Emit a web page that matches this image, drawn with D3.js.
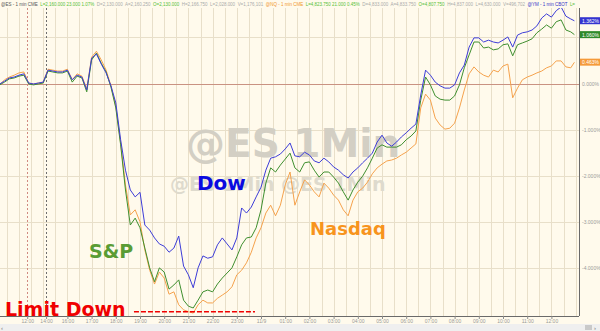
<!DOCTYPE html>
<html>
<head>
<meta charset="utf-8">
<script src="https://cdn.jsdelivr.net/npm/d3@7/dist/d3.min.js"></script>
<style>
body { margin: 0; background: #fffaec; }
svg { display: block; }
</style>
</head>
<body>
<svg id="graph" width="600" height="331"></svg>
<script>
// hours relative to midnight, one sample every 12 min
var hours = [
    -10.8, -10.6, -10.4, -10.2, -10, -9.8, -9.6, -9.4, -9.2, -9,
    -8.8, -8.6, -8.4, -8.2, -8, -7.8, -7.6, -7.4, -7.2, -7,
    -6.8, -6.6, -6.4, -6.2, -6, -5.8, -5.6, -5.4, -5.2, -5,
    -4.8, -4.6, -4.4, -4.2, -4, -3.8, -3.6, -3.4, -3.2, -3,
    -2.8, -2.6, -2.4, -2.2, -2, -1.8, -1.6, -1.4, -1.2, -1,
    -0.8, -0.6, -0.4, -0.2, 0, 0.2, 0.4, 0.6, 0.8, 1,
    1.2, 1.4, 1.6, 1.8, 2, 2.2, 2.4, 2.6, 2.8, 3,
    3.2, 3.4, 3.6, 3.8, 4, 4.2, 4.4, 4.6, 4.8, 5,
    5.2, 5.4, 5.6, 5.8, 6, 6.2, 6.4, 6.6, 6.8, 7,
    7.2, 7.4, 7.6, 7.8, 8, 8.2, 8.4, 8.6, 8.8, 9,
    9.2, 9.4, 9.6, 9.8, 10, 10.2, 10.4, 10.6, 10.8, 11,
    11.2, 11.4, 11.6, 11.8, 12, 12.2, 12.4, 12.6, 12.8, 12.95
];

// percent change
var dow_values = [
    -0.01, 0.05, 0.12, 0.14, 0.18, 0.21, 0.01, -0.01, 0.01, 0.03,
    0.29, 0.27, 0.25, 0.25, 0.29, 0.08, 0.18, 0.14, -0.14, 0.55,
    0.64, 0.42, 0.23, -0.05, -0.42, -1.22, -1.88, -2.31, -2.46, -2.36,
    -3.07, -3.18, -3.35, -3.48, -3.53, -3.66, -3.57, -3.31, -3.96, -4.15,
    -4.43, -4.00, -3.74, -3.79, -3.76, -3.50, -3.35, -3.48, -3.61, -3.35,
    -2.70, -2.81, -2.68, -2.46, -2.25, -1.88, -1.62, -1.59, -1.53, -1.42,
    -1.29, -1.57, -1.59, -1.49, -1.55, -1.68, -1.72, -1.62, -1.70, -1.81,
    -1.88, -1.98, -2.05, -1.92, -1.83, -1.72, -1.62, -1.51, -1.27, -1.12,
    -1.29, -1.36, -1.27, -1.16, -1.07, -0.97, -0.88, -0.25, 0.29, 0.18,
    0.03, -0.05, -0.10, -0.10, -0.03, 0.23, 0.40, 0.79, 0.99, 0.99,
    0.90, 0.94, 0.90, 0.88, 0.94, 1.01, 0.79, 1.05, 1.10, 1.12,
    1.16, 1.25, 1.42, 1.51, 1.44, 1.58, 1.66, 1.46, 1.40, 1.36
];

var sp_values = [
    -0.03, 0.03, 0.10, 0.12, 0.16, 0.18, -0.01, -0.03, -0.01, 0.01,
    0.27, 0.25, 0.23, 0.23, 0.27, 0.03, 0.16, 0.12, -0.18, 0.51,
    0.66, 0.44, 0.25, -0.08, -0.53, -1.33, -2.31, -3.07, -2.92, -3.13,
    -3.57, -4.00, -4.30, -4.00, -4.09, -4.46, -4.37, -4.26, -4.70, -4.83,
    -4.87, -4.70, -4.52, -4.48, -4.52, -4.35, -4.22, -4.11, -4.00, -3.76,
    -3.50, -3.35, -3.33, -3.13, -2.74, -2.16, -1.83, -1.92, -1.77, -1.64,
    -1.51, -1.83, -1.92, -1.72, -1.70, -1.88, -2.03, -1.92, -1.92, -2.03,
    -2.16, -2.35, -2.53, -2.31, -2.14, -2.01, -1.83, -1.62, -1.40, -1.33,
    -1.38, -1.38, -1.38, -1.33, -1.22, -1.14, -1.03, -0.36, 0.14, -0.03,
    -0.27, -0.34, -0.36, -0.36, -0.27, -0.03, 0.34, 0.62, 0.90, 0.90,
    0.77, 0.79, 0.73, 0.75, 0.84, 0.86, 0.60, 0.84, 0.88, 0.92,
    0.97, 1.10, 1.18, 1.27, 1.20, 1.34, 1.38, 1.16, 1.12, 1.06
];

var nasdaq_values = [
    -0.03, 0.08, 0.14, 0.18, 0.23, 0.25, 0.01, -0.01, 0.01, 0.03,
    0.31, 0.29, 0.27, 0.27, 0.31, 0.08, 0.21, 0.16, -0.12, 0.57,
    0.70, 0.51, 0.29, -0.05, -0.49, -1.29, -2.20, -2.85, -2.74, -3.00,
    -3.61, -4.05, -4.35, -4.09, -4.22, -4.57, -4.52, -4.80, -4.91, -4.95,
    -4.98, -4.80, -4.70, -4.76, -4.76, -4.66, -4.59, -4.52, -4.41, -4.15,
    -4.05, -3.89, -3.66, -3.35, -3.13, -2.81, -2.64, -2.87, -2.64, -2.20,
    -1.92, -2.64, -2.35, -2.09, -2.20, -2.35, -2.46, -2.16, -2.27, -2.42,
    -2.53, -2.74, -2.87, -2.53, -2.35, -2.27, -2.14, -1.96, -1.83, -1.75,
    -1.68, -1.66, -1.62, -1.55, -1.49, -1.40, -1.31, -0.53, -0.23, -0.36,
    -0.75, -0.90, -0.99, -0.97, -0.86, -0.53, -0.14, 0.21, 0.36, 0.25,
    0.18, 0.14, 0.29, 0.25, 0.38, 0.42, -0.31, -0.10, 0.08, 0.14,
    0.18, 0.23, 0.27, 0.34, 0.38, 0.49, 0.49, 0.36, 0.34, 0.46
];

var last_labels = ["1.362%", "1.060%", "0.463%"];
var last_values = [1.362, 1.060, 0.463];

var tick_hours = [-9.66, -8.88, -8, -7, -6, -5, -4, -3, -2, -1, 0, 1, 2, 3, 4, 5, 6, 7, 8, 9, 10, 11, 12];
var tick_labels = ["12:00", "14:00", "16:00", "17:00", "18:00", "19:00", "20:00", "21:00", "22:00", "23:00", "11/9",
    "01:00", "02:00", "03:00", "04:00", "05:00", "06:00", "07:00", "08:00", "09:00", "10:00", "11:00", "12:00"];
var session_breaks = [-9.66, -8.88];
var grid_percents = [1, 0, -1, -2, -3, -4];
var label_percents = [0, -1, -2, -3, -4];

var limit_down_pct = -4.95;
var limit_down_span = [-5.25, -0.25];

var header_parts = [
    ["@ES - 1 min CME  ", "#555555"],
    ["L=2,160.000 23.000 1.07%  ", "#55c035"],
    ["D=2,130.000  ", "#aaaaaa"],
    ["A=2,160.250  ", "#aaaaaa"],
    ["O=2,130.000  ", "#55c035"],
    ["H=2,166.750  ", "#aaaaaa"],
    ["L=2,028.000  ", "#aaaaaa"],
    ["V=1,176,101  ", "#aaaaaa"],
    ["@NQ - 1 min CME  ", "#f0962e"],
    ["L=4,823.750 21.000 0.45%  ", "#55c035"],
    ["D=4,833.000  ", "#aaaaaa"],
    ["A=4,833.750  ", "#aaaaaa"],
    ["O=4,807.750  ", "#55c035"],
    ["H=4,837.000  ", "#aaaaaa"],
    ["L=4,630.000  ", "#aaaaaa"],
    ["V=496,702  ", "#aaaaaa"],
    ["@YM - 1 min CBOT  ", "#3434c8"],
    ["L=", "#55c035"]
];

var plot_right = 579;
var plot_top = 8;
var plot_bottom = 316;

window.onload = function()
{
    var graph = d3.select("#graph");
    var x = d3.scaleLinear().domain([-10.785, 13.14]).range([0, plot_right]);
    var y = d3.scaleLinear().domain([0, -5]).range([83.5, 314]);

    graph.append("rect").
        attr("width", 600).
        attr("height", 331).
        attr("fill", "#fffaec");

    draw_grid(graph, x, y);
    draw_watermark(graph);
    draw_series(graph, x, y);
    draw_annotations(graph, x, y);
    draw_scrollbar(graph);
    draw_axes(graph, x, y);
    draw_header(graph);
}

function draw_grid(graph, x, y)
{
    var half_hours = d3.range(-10.5, 13.01, 0.5);
    graph.append("g").selectAll("line").data(half_hours).enter().append("line").
        attr("x1", function(d) { return Math.round(x(d)) + 0.5; }).
        attr("x2", function(d) { return Math.round(x(d)) + 0.5; }).
        attr("y1", plot_top).
        attr("y2", plot_bottom).
        attr("stroke", "#e8dfc9").
        attr("stroke-width", 1);

    graph.append("g").selectAll("line").data(grid_percents).enter().append("line").
        attr("x1", 0).
        attr("x2", plot_right).
        attr("y1", function(d) { return Math.round(y(d)) + 0.5; }).
        attr("y2", function(d) { return Math.round(y(d)) + 0.5; }).
        attr("stroke", function(d) { return d === 0 ? "#c99282" : "#e8dfc9"; }).
        attr("stroke-width", 1);

    graph.append("g").selectAll("line").data(session_breaks).enter().append("line").
        attr("x1", function(d) { return Math.round(x(d)) + 0.5; }).
        attr("x2", function(d) { return Math.round(x(d)) + 0.5; }).
        attr("y1", plot_top).
        attr("y2", plot_bottom).
        attr("stroke", function(d, i) { return i === 0 ? "#d08a80" : "#6e6e6e"; }).
        attr("stroke-dasharray", "2,2").
        attr("stroke-width", 1);
}

function draw_watermark(graph)
{
    graph.append("text").
        attr("x", 186).
        attr("y", 157).
        attr("font-family", "DejaVu Sans").
        attr("font-weight", "bold").
        attr("font-size", 39).
        attr("fill", "#d3cfc4").
        text("@ES 1Min");

    graph.append("text").
        attr("x", 170).
        attr("y", 191).
        attr("font-family", "DejaVu Sans").
        attr("font-weight", "bold").
        attr("font-size", 19).
        attr("fill", "#dedacd").
        text("@ES 1Min @ES 1Min");
}

function draw_series(graph, x, y)
{
    var series = [
        { values: nasdaq_values, color: "#f5a24c" },
        { values: sp_values, color: "#3f8f2f" },
        { values: dow_values, color: "#3d3dd8" }
    ];
    graph.append("clipPath").attr("id", "plot-clip").
        append("rect").
        attr("x", 0).
        attr("y", plot_top).
        attr("width", plot_right).
        attr("height", plot_bottom - plot_top);

    var line = d3.line().
        x(function(d) { return x(d[0]); }).
        y(function(d) { return y(d[1]); });

    graph.append("g").attr("clip-path", "url(#plot-clip)").
        selectAll("path").data(series).enter().append("path").
        attr("d", function(s) { return line(d3.zip(hours, s.values)); }).
        attr("fill", "none").
        attr("stroke", function(s) { return s.color; }).
        attr("stroke-width", 1).
        attr("stroke-linejoin", "round");
}

function draw_annotations(graph, x, y)
{
    var labels = [
        { text: "Dow", x: 197, y: 190, size: 20, color: "#0a0ae0" },
        { text: "S&P", x: 89, y: 258, size: 19, color: "#5a9c34" },
        { text: "Nasdaq", x: 310, y: 235, size: 18, color: "#f7941d" },
        { text: "Limit Down", x: 5, y: 316, size: 19, color: "#f00000" }
    ];
    graph.append("g").selectAll("text").data(labels).enter().append("text").
        attr("x", function(d) { return d.x; }).
        attr("y", function(d) { return d.y; }).
        attr("font-family", "DejaVu Sans").
        attr("font-weight", "bold").
        attr("font-size", function(d) { return d.size; }).
        attr("fill", function(d) { return d.color; }).
        text(function(d) { return d.text; });

    graph.append("line").
        attr("x1", x(limit_down_span[0])).
        attr("x2", x(limit_down_span[1])).
        attr("y1", y(limit_down_pct)).
        attr("y2", y(limit_down_pct)).
        attr("stroke", "#f00000").
        attr("stroke-width", 1.6).
        attr("stroke-dasharray", "5,2");
}

function draw_axes(graph, x, y)
{
    var bottom_axis = graph.append("g").
        attr("transform", "translate(0," + plot_bottom + ")").
        call(d3.axisBottom(x).
            tickValues(tick_hours).
            tickFormat(function(d, i) { return tick_labels[i]; }).
            tickSizeInner(3).
            tickSizeOuter(0));
    bottom_axis.select(".domain").attr("stroke", "#6a6a6a").attr("d", "M0,0.5H" + plot_right);
    bottom_axis.selectAll(".tick line").attr("stroke", "#8a8a8a");
    bottom_axis.selectAll(".tick text").
        attr("y", 3.5).
        attr("font-family", "Liberation Sans").
        attr("font-size", 5).
        attr("fill", "#9a9a9a");

    var right_axis = graph.append("g").
        attr("transform", "translate(" + plot_right + ",0)").
        call(d3.axisRight(y).
            tickValues(label_percents).
            tickFormat(function(d) { return d.toFixed(3) + "%"; }).
            tickSizeInner(0).
            tickSizeOuter(0).
            tickPadding(3));
    right_axis.select(".domain").attr("stroke", "#6a6a6a").attr("d", "M0.5," + plot_top + "V" + plot_bottom);
    right_axis.selectAll(".tick text").
        attr("font-family", "Liberation Sans").
        attr("font-size", 5).
        attr("fill", "#9a9a9a");

    var tag_colors = ["#3434d0", "#2f8a2a", "#f59a3a"];
    var tags = graph.append("g").selectAll("g").data(last_values).enter().append("g").
        attr("transform", function(d) { return "translate(" + (plot_right + 1) + "," + y(d) + ")"; });
    tags.append("rect").
        attr("x", 0).
        attr("y", -3.5).
        attr("width", 21).
        attr("height", 7).
        attr("fill", function(d, i) { return tag_colors[i]; });
    tags.append("text").
        attr("x", 2).
        attr("y", 2).
        attr("font-family", "Liberation Sans").
        attr("font-size", 5).
        attr("fill", "#ffffff").
        text(function(d, i) { return last_labels[i]; });
}

function draw_header(graph)
{
    var header = graph.append("text").
        attr("x", 1).
        attr("y", 6).
        attr("font-family", "Liberation Sans").
        attr("font-size", 5).
        attr("textLength", 574).
        attr("lengthAdjust", "spacingAndGlyphs").
        style("white-space", "pre");
    header.selectAll("tspan").data(header_parts).enter().append("tspan").
        attr("fill", function(d) { return d[1]; }).
        text(function(d) { return d[0]; });
}

function draw_scrollbar(graph)
{
    graph.append("rect").
        attr("x", 0).
        attr("y", 324).
        attr("width", 600).
        attr("height", 7).
        attr("fill", "#efefef");
    graph.append("rect").
        attr("x", 585).
        attr("y", 325).
        attr("width", 7).
        attr("height", 5).
        attr("fill", "#c9c9c9");
    graph.append("text").
        attr("x", 1).
        attr("y", 330).
        attr("font-family", "Liberation Sans").
        attr("font-size", 6).
        attr("fill", "#777777").
        text("\u2039");
    graph.append("text").
        attr("x", 594).
        attr("y", 330).
        attr("font-family", "Liberation Sans").
        attr("font-size", 6).
        attr("fill", "#777777").
        text("\u203a");
}
</script>
</body>
</html>
